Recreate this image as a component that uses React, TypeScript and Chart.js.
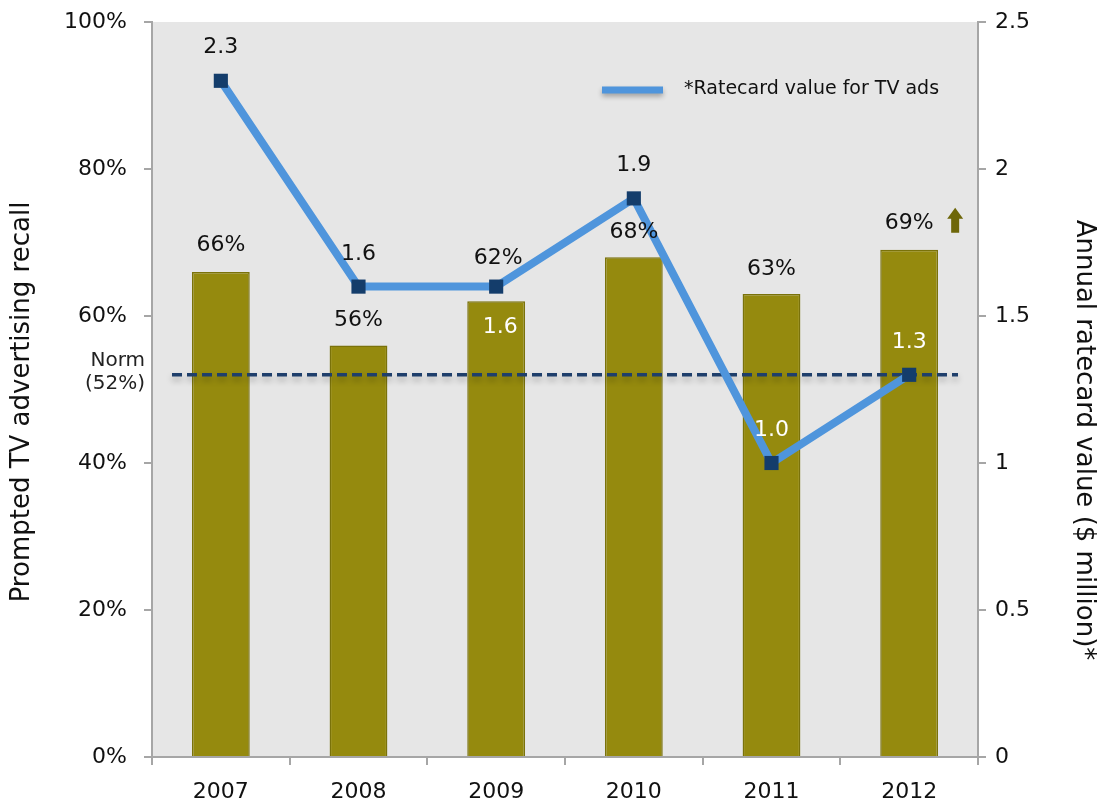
import React, { useEffect, useRef } from "react";
import { Chart, registerables } from "chart.js";

Chart.register(...registerables);

const years = ["2007", "2008", "2009", "2010", "2011", "2012"];
const recallPct = [66, 56, 62, 68, 63, 69];
const ratecard = [2.3, 1.6, 1.6, 1.9, 1.0, 1.3];
const normPct = 52;
const leftTicks = [0, 20, 40, 60, 80, 100];
const rightTicks = [0, 0.5, 1, 1.5, 2, 2.5];

// label placement (styling only)
const barLabelDy = [-27, -25, -43, -25, -25, -27];
const barLabelDx = [0, 0, 2, 0, 0, 0];
const lineLabelDy = [-34, -32, 41, -33, -33, -33];
const lineLabelDx = [0, 0, 4, 0, 0, 0];
const lineLabelWhite = [false, false, true, false, true, true];

const FONT = "'DejaVu Sans', sans-serif";
const BAR_FILL = "#958a0e";
const BAR_EDGE = "#7a720a";
const LINE_BLUE = "#4f95dc";
const MARKER = "#143d6b";
const NORM = "#1f3f6b";
const AXIS = "#a6a6a6";

const overlay = {
  id: "overlay",
  beforeDraw(chart: any) {
    const { ctx, chartArea } = chart;
    ctx.save();
    ctx.fillStyle = "#e6e6e6";
    ctx.fillRect(chartArea.left, chartArea.top, chartArea.right - chartArea.left, chartArea.bottom - chartArea.top);
    ctx.restore();
  },
  afterDatasetDraw(chart: any, args: any) {
    if (args.index !== 0) return;
    const { ctx } = chart;
    const y = chart.scales.y.getPixelForValue(normPct);
    ctx.save();
    ctx.strokeStyle = NORM;
    ctx.lineWidth = 3.5;
    ctx.setLineDash([10, 5]);
    ctx.shadowColor = "rgba(0,0,0,0.28)";
    ctx.shadowBlur = 6;
    ctx.shadowOffsetY = 4;
    ctx.beginPath();
    ctx.moveTo(chart.chartArea.left + 20, y);
    ctx.lineTo(chart.chartArea.right - 20, y);
    ctx.stroke();
    ctx.restore();
  },
  afterDraw(chart: any) {
    const { ctx, chartArea } = chart;
    const xs = chart.scales.x;
    const ys = chart.scales.y;
    const y1 = chart.scales.y1;
    ctx.save();
    ctx.textAlign = "center";
    ctx.textBaseline = "middle";
    ctx.font = `22px ${FONT}`;
    // bar labels
    recallPct.forEach((v, i) => {
      const x = xs.getPixelForValue(i) + barLabelDx[i];
      const y = ys.getPixelForValue(v) + barLabelDy[i];
      ctx.fillStyle = "#111";
      ctx.fillText(v + "%", x, y);
    });
    // line labels
    ratecard.forEach((v, i) => {
      const x = xs.getPixelForValue(i) + lineLabelDx[i];
      const y = y1.getPixelForValue(v) + lineLabelDy[i];
      ctx.fillStyle = lineLabelWhite[i] ? "#ffffff" : "#111";
      ctx.fillText(v.toFixed(1), x, y);
    });
    // up arrow beside last bar label
    {
      const last = recallPct.length - 1;
      const cx = xs.getPixelForValue(last) + 46;
      const cy = ys.getPixelForValue(recallPct[last]) - 30;
      ctx.fillStyle = "#6e6709";
      ctx.beginPath();
      ctx.moveTo(cx - 8, cy - 1);
      ctx.lineTo(cx, cy - 12);
      ctx.lineTo(cx + 8, cy - 1);
      ctx.lineTo(cx + 4, cy - 1);
      ctx.lineTo(cx + 4, cy + 13);
      ctx.lineTo(cx - 4, cy + 13);
      ctx.lineTo(cx - 4, cy - 1);
      ctx.closePath();
      ctx.fill();
    }
    // norm label
    {
      const y = ys.getPixelForValue(normPct);
      ctx.font = `20px ${FONT}`;
      ctx.fillStyle = "#222";
      ctx.textAlign = "right";
      ctx.fillText("Norm", chartArea.left - 7, y - 14);
      ctx.fillText("(52%)", chartArea.left - 7, y + 9);
    }
    // legend
    {
      ctx.save();
      ctx.strokeStyle = LINE_BLUE;
      ctx.lineWidth = 7;
      ctx.shadowColor = "rgba(0,0,0,0.3)";
      ctx.shadowBlur = 5;
      ctx.shadowOffsetY = 3;
      ctx.beginPath();
      ctx.moveTo(602, 90);
      ctx.lineTo(663, 90);
      ctx.stroke();
      ctx.restore();
      ctx.font = `19px ${FONT}`;
      ctx.fillStyle = "#111";
      ctx.textAlign = "left";
      ctx.fillText("*Ratecard value for TV ads", 684, 89);
    }
    // axis titles
    ctx.font = `26px ${FONT}`;
    ctx.fillStyle = "#111";
    ctx.textAlign = "center";
    ctx.save();
    ctx.translate(22, 402);
    ctx.rotate(-Math.PI / 2);
    ctx.fillText("Prompted TV advertising recall", 0, 0);
    ctx.restore();
    ctx.save();
    ctx.translate(1084, 440);
    ctx.rotate(Math.PI / 2);
    ctx.fillText("Annual ratecard value ($ million)*", 0, 0);
    ctx.restore();
    ctx.restore();
  },
};

const noPadV = (s: any) => { s.paddingTop = 0; s.paddingBottom = 0; };

export default function App() {
  const ref = useRef<HTMLCanvasElement | null>(null);
  useEffect(() => {
    if (!ref.current) return;
    const chart = new Chart(ref.current, {
      type: "bar",
      data: {
        labels: years,
        datasets: [
          {
            type: "bar",
            label: "Prompted TV advertising recall",
            data: recallPct,
            yAxisID: "y",
            backgroundColor: BAR_FILL,
            borderColor: BAR_EDGE,
            borderWidth: 1.5,
            categoryPercentage: 1,
            barPercentage: 0.42,
            order: 1,
          },
          {
            type: "line",
            label: "*Ratecard value for TV ads",
            data: ratecard,
            yAxisID: "y1",
            borderColor: LINE_BLUE,
            borderWidth: 8,
            pointStyle: "rect",
            pointRadius: 10,
            pointBackgroundColor: MARKER,
            pointBorderColor: MARKER,
            pointBorderWidth: 0,
            tension: 0,
            order: 0,
          } as any,
        ],
      },
      options: {
        responsive: false,
        animation: false,
        devicePixelRatio: 1,
        layout: { padding: { top: 22, left: 0, right: 0, bottom: 0 } },
        plugins: { legend: { display: false }, tooltip: { enabled: false } },
        scales: {
          x: {
            offset: true,
            grid: { display: true, drawOnChartArea: false, drawTicks: true, tickLength: 8, color: AXIS, offset: true, lineWidth: 2 },
            border: { color: AXIS, width: 2 },
            ticks: { font: { family: FONT, size: 22 }, color: "#111", padding: 14 },
            afterFit: (s: any) => { s.height = 44; s.paddingLeft = 0; s.paddingRight = 0; },
          },
          y: {
            position: "left",
            min: 0,
            max: 100,
            afterBuildTicks: (s: any) => { s.ticks = leftTicks.map((v) => ({ value: v })); },
            grid: { display: true, drawOnChartArea: false, drawTicks: true, tickLength: 8, color: AXIS, lineWidth: 2 },
            border: { color: AXIS, width: 2 },
            ticks: { font: { family: FONT, size: 22 }, color: "#111", padding: 17, callback: (v: any) => v + "%" },
            afterFit: (s: any) => { s.width = 152; noPadV(s); },
          },
          y1: {
            position: "right",
            min: 0,
            max: 2.5,
            afterBuildTicks: (s: any) => { s.ticks = rightTicks.map((v) => ({ value: v })); },
            grid: { display: true, drawOnChartArea: false, drawTicks: true, tickLength: 8, color: AXIS, lineWidth: 2 },
            border: { color: AXIS, width: 2 },
            ticks: { font: { family: FONT, size: 22 }, color: "#111", padding: 9, callback: (v: any) => String(v) },
            afterFit: (s: any) => { s.width = 120; noPadV(s); },
          },
        },
      },
      plugins: [overlay],
    });
    return () => chart.destroy();
  }, []);
  return (
    <div style={{ position: "fixed", left: 0, top: 0, width: 1098, height: 801, background: "#fff" }}>
      <canvas ref={ref} width={1098} height={801} style={{ width: 1098, height: 801, display: "block" }} />
    </div>
  );
}
